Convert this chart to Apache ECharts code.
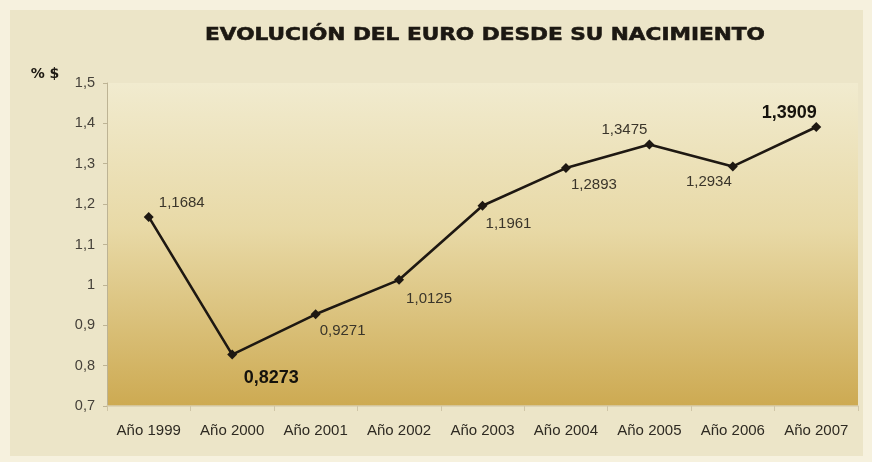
<!DOCTYPE html>
<html><head><meta charset="utf-8">
<script src="https://cdn.jsdelivr.net/npm/echarts@6/dist/echarts.min.js"></script>
<style>html,body{margin:0;padding:0;background:#f6f1de;}#c{width:872px;height:462px;}</style>
</head><body><div id="c"></div>
<script>
const titleText = 'EVOLUCIÓN DEL EURO DESDE SU NACIMIENTO';
const yName = '% $';
const categories = ['Año 1999','Año 2000','Año 2001','Año 2002','Año 2003','Año 2004','Año 2005','Año 2006','Año 2007'];
const values = [1.1684, 0.8273, 0.9271, 1.0125, 1.1961, 1.2893, 1.3475, 1.2934, 1.3909];
const yTicks = [0.7, 1.5, 0.1];
const boldIdx = [1, 8];
const labelOffsets = [[33,-14],[39,23],[27,17],[30,19],[26,18],[28,17],[-25,-15],[-24,15],[-27,-14]];

const fmt = v => String(v).replace('.', ',');
const chart = echarts.init(document.getElementById('c'), null, {renderer:'canvas'});
chart.setOption({
  backgroundColor: '#f6f1de',
  animation: false,
  graphic: [
    {type:'rect', z:-10, shape:{x:10,y:10,width:853,height:446}, style:{fill:'#ece5c8'}},
    {type:'text', x:485, y:35, scaleX:1.2, z:10,
      style:{text:titleText, fill:'#1c1812', font:'bold 18px "DejaVu Sans"', align:'center', verticalAlign:'middle', stroke:'#1c1812', lineWidth:0.6}},
    {type:'text', x:45, y:74, z:10,
      style:{text:yName, fill:'#1c1812', font:'bold 14px "DejaVu Sans"', align:'center', verticalAlign:'middle'}}
  ],
  grid: {left:107, right:14, top:83, bottom:56, show:true, borderWidth:0,
    backgroundColor:{type:'linear', x:0, y:0, x2:0, y2:1, colorStops:[{offset:0,color:'#f1ebcf'},{offset:0.45,color:'#e8d9a6'},{offset:1,color:'#cdaa52'}]}},
  xAxis: {type:'category', data:categories, boundaryGap:true,
    axisLine:{lineStyle:{color:'#d8ceb0', width:1.5}},
    axisTick:{show:true, length:5, lineStyle:{color:'#cfc5a6'}},
    axisLabel:{interval:0, hideOverlap:false, color:'#2e2a22', fontFamily:'Liberation Sans', fontSize:15, margin:17}},
  yAxis: {type:'value', min:yTicks[0], max:yTicks[1], interval:yTicks[2],
    splitLine:{show:false},
    axisLine:{show:true, lineStyle:{color:'#bdb394', width:1}},
    axisTick:{show:true, length:4, lineStyle:{color:'#bdb394'}},
    axisLabel:{color:'#45413a', fontFamily:'Liberation Sans', fontSize:14.5, margin:12, formatter: v => fmt(Math.round(v*10)/10)}},
  series: [{type:'line', data: values.map((v,i)=>({value:v,
      label:{show:true, position:'inside', offset:labelOffsets[i], formatter: fmt(v),
        fontFamily:'Liberation Sans', fontSize: boldIdx.includes(i)?18:15,
        fontWeight: boldIdx.includes(i)?'bold':'normal',
        color: boldIdx.includes(i)?'#15120c':'#3a352a'}})),
    symbol:'diamond', symbolSize:10, lineStyle:{color:'#1e1812', width:2.6},
    itemStyle:{color:'#1e1812'}}]
});
</script></body></html>
